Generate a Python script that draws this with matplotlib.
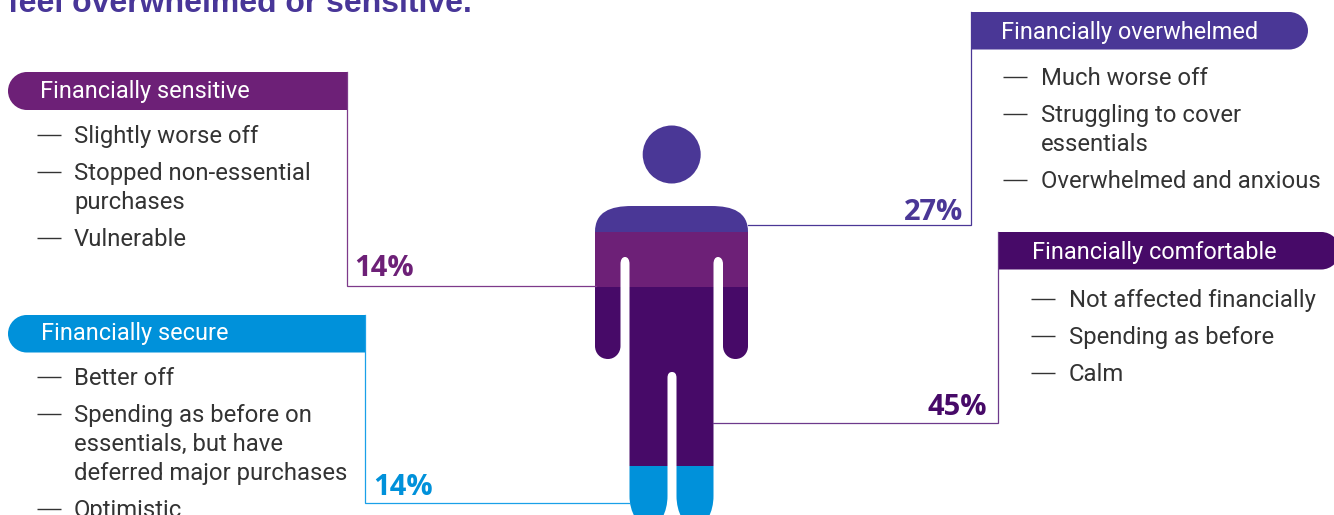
#!/usr/bin/env python3

import matplotlib
matplotlib.use('Agg')

import matplotlib.pyplot as plt
from matplotlib.patches import Circle, PathPatch, Rectangle
from matplotlib.path import Path

title = "feel overwhelmed or sensitive."

groups = ["Financially overwhelmed", "Financially sensitive",
          "Financially comfortable", "Financially secure"]
shares = [27, 14, 45, 14]
colors = ["#4a3796", "#6d2077", "#470a68", "#0091da"]
line_colors = ["#4a3796", "#7d3a8a", "#6d3a8c", "#1aa0e8"]

overwhelmed_items = [["Much worse off"],
                     ["Struggling to cover", "essentials"],
                     ["Overwhelmed and anxious"]]
sensitive_items = [["Slightly worse off"],
                   ["Stopped non-essential", "purchases"],
                   ["Vulnerable"]]
comfortable_items = [["Not affected financially"],
                     ["Spending as before"],
                     ["Calm"]]
secure_items = [["Better off"],
                ["Spending as before on", "essentials, but have",
                 "deferred major purchases"],
                ["Optimistic"]]
items = [overwhelmed_items, sensitive_items, comfortable_items, secure_items]

BODY_FONT = ['Roboto', 'Liberation Sans']
INK = "#333333"

fig = plt.figure(figsize=(13.34, 5.15), dpi=100)
ax = fig.add_axes([0, 0, 1, 1])
ax.set_xlim(0, 1334)
ax.set_ylim(515, 0)
ax.axis('off')


def pill(x0, x1, y0, y1, color, round_left):
    # header bar, fully rounded on the side away from the connector
    r = (y1 - y0) / 2
    k = 0.55 * r
    if round_left:
        verts = [(x1, y0), (x1, y1), (x0 + r, y1),
                 (x0 + r - k, y1), (x0, y0 + r + k), (x0, y0 + r),
                 (x0, y0 + r - k), (x0 + r - k, y0), (x0 + r, y0), (x1, y0)]
    else:
        verts = [(x0, y0), (x0, y1), (x1 - r, y1),
                 (x1 - r + k, y1), (x1, y0 + r + k), (x1, y0 + r),
                 (x1, y0 + r - k), (x1 - r + k, y0), (x1 - r, y0), (x0, y0)]
    codes = [Path.MOVETO, Path.LINETO, Path.LINETO] + [Path.CURVE4] * 6 + [Path.LINETO]
    ax.add_patch(PathPatch(Path(verts, codes), facecolor=color, edgecolor='none'))


def bullets(group_items, dash_x, text_x, baseline):
    y = baseline
    for lines in group_items:
        ax.plot([dash_x, dash_x + 24], [y - 8, y - 8], color=INK, lw=1.0,
                solid_capstyle='butt')
        for line in lines:
            ax.text(text_x, y, line, fontsize=17.2, color=INK, family=BODY_FONT,
                    va='baseline', ha='left')
            y += 29
        y += 8


def body_path():
    # outline of the figure, clockwise from the left shoulder
    m, l, c = Path.MOVETO, Path.LINETO, Path.CURVE4
    segs = [
        (m, (595, 232)),
        (c, (595, 212)), (c, (610, 206)), (c, (632, 206)),
        (l, (711, 206)),
        (c, (733, 206)), (c, (748, 212)), (c, (748, 232)),
        (l, (748, 346)),
        (c, (748, 353)), (c, (743, 359)), (c, (735.5, 359)),
        (c, (728, 359)), (c, (723, 353)), (c, (723, 346)),
        (l, (723, 264)),
        (c, (723, 260)), (c, (721, 257)), (c, (718, 257)),
        (c, (715, 257)), (c, (713.5, 260)), (c, (713.5, 264)),
        (l, (713.5, 496)),
        (c, (713.5, 512)), (c, (706, 527)), (c, (695, 527)),
        (c, (684, 527)), (c, (676.5, 512)), (c, (676.5, 496)),
        (l, (676.5, 378)),
        (c, (676.5, 374)), (c, (675, 372)), (c, (672, 372)),
        (c, (669, 372)), (c, (667.5, 374)), (c, (667.5, 378)),
        (l, (667.5, 496)),
        (c, (667.5, 512)), (c, (660, 527)), (c, (649, 527)),
        (c, (638, 527)), (c, (629.5, 512)), (c, (629.5, 496)),
        (l, (629.5, 264)),
        (c, (629.5, 260)), (c, (628, 257)), (c, (625, 257)),
        (c, (622, 257)), (c, (620.5, 260)), (c, (620.5, 264)),
        (l, (620.5, 346)),
        (c, (620.5, 353)), (c, (615, 359)), (c, (608, 359)),
        (c, (600, 359)), (c, (595, 353)), (c, (595, 346)),
        (l, (595, 232)),
    ]
    return Path([s[1] for s in segs], [s[0] for s in segs])


ax.text(8, 12, title, fontsize=23, color="#483698", family='Liberation Sans',
        weight='bold', va='baseline', ha='left', clip_on=False)

# connectors run from the header bar down and across to the figure
connectors = [([970.5, 970.5, 748], [12, 224.5, 224.5]),
              ([347, 347, 596], [72, 286, 286]),
              ([998, 998, 713], [232, 423, 423]),
              ([365, 365, 630], [315, 502.5, 502.5])]
for (xs, ys), col in zip(connectors, line_colors):
    ax.plot(xs, ys, color=col, lw=0.9, solid_joinstyle='miter')

pill(971, 1308, 12, 49.5, colors[0], False)
pill(8, 347, 72, 110, colors[1], True)
pill(998, 1340, 232, 269.5, colors[2], False)
pill(8, 365, 315, 352.5, colors[3], True)

header_pos = [(1001, 39), (40, 98), (1032, 259), (41, 340)]
for name, (x, y) in zip(groups, header_pos):
    ax.text(x, y, name, fontsize=16.9, color='white', family=BODY_FONT,
            va='baseline', ha='left')

bullets(items[0], 1003, 1041, 85)
bullets(items[1], 37, 74, 143)
bullets(items[2], 1031, 1069, 307)
bullets(items[3], 37, 74, 385)

share_pos = [(904, 220), (354, 276), (928, 415), (373, 495)]
for share, col, (x, y) in zip(shares, colors, share_pos):
    ax.text(x, y, f"{share}%", fontsize=21, color=col, family='Open Sans',
            weight='bold', va='baseline', ha='left')

# head and the coloured bands, clipped to the body outline
ax.add_patch(Circle((671.7, 154.5), 29, facecolor=colors[0], edgecolor='none'))

body = PathPatch(body_path(), facecolor='none', edgecolor='none')
ax.add_patch(body)
band_edges = [200, 232, 287, 466, 530]
for i in range(len(colors)):
    band = Rectangle((590, band_edges[i]), 165, band_edges[i + 1] - band_edges[i],
                     facecolor=colors[i], edgecolor='none')
    ax.add_patch(band)
    band.set_clip_path(body)

fig.savefig('out.png', dpi=100)
